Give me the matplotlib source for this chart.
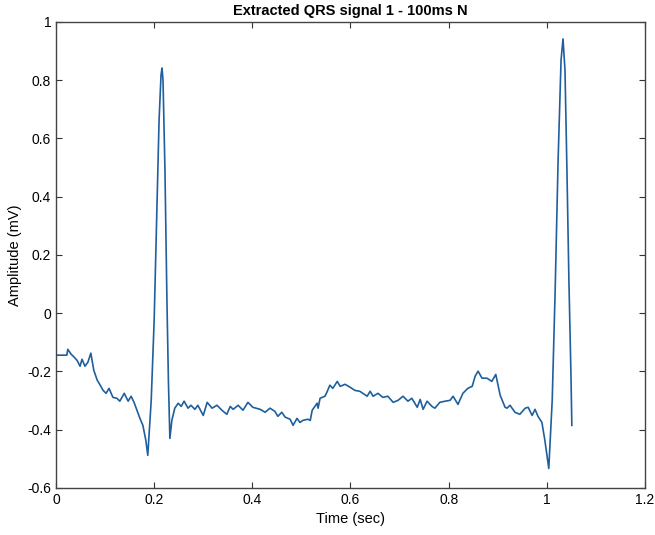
import matplotlib
matplotlib.use('Agg')
import matplotlib.pyplot as plt
from matplotlib.ticker import FuncFormatter

# 추출된 QRS 신호
time_sec = [0.000, 0.022, 0.024, 0.031, 0.037, 0.043, 0.049, 0.053, 0.059, 0.065,
            0.071, 0.077, 0.084, 0.088, 0.096, 0.102, 0.108, 0.116, 0.124, 0.130,
            0.139, 0.147, 0.153, 0.159, 0.165, 0.171, 0.177, 0.183, 0.187, 0.194,
            0.200, 0.206, 0.210, 0.214, 0.216, 0.218, 0.222, 0.226, 0.229, 0.232,
            0.236, 0.242, 0.249, 0.255, 0.261, 0.269, 0.275, 0.283, 0.289, 0.300,
            0.308, 0.318, 0.328, 0.338, 0.348, 0.355, 0.361, 0.371, 0.381, 0.391,
            0.401, 0.416, 0.426, 0.436, 0.446, 0.452, 0.460, 0.467, 0.477, 0.483,
            0.491, 0.497, 0.503, 0.513, 0.518, 0.522, 0.532, 0.534, 0.538, 0.548,
            0.552, 0.558, 0.564, 0.573, 0.579, 0.589, 0.599, 0.609, 0.619, 0.634,
            0.640, 0.646, 0.656, 0.666, 0.676, 0.687, 0.697, 0.707, 0.717, 0.725,
            0.736, 0.742, 0.748, 0.756, 0.766, 0.772, 0.782, 0.793, 0.803, 0.809,
            0.819, 0.829, 0.839, 0.848, 0.854, 0.860, 0.868, 0.878, 0.888, 0.896,
            0.905, 0.915, 0.919, 0.925, 0.935, 0.945, 0.956, 0.962, 0.970, 0.976,
            0.982, 0.990, 0.996, 1.004, 1.011, 1.017, 1.023, 1.029, 1.033, 1.037,
            1.041, 1.045, 1.049, 1.051]
amplitude_mv = [-0.144, -0.144, -0.124, -0.141, -0.151, -0.162, -0.182, -0.158, -0.182, -0.168,
                -0.137, -0.196, -0.230, -0.241, -0.265, -0.275, -0.258, -0.289, -0.292, -0.302,
                -0.275, -0.302, -0.285, -0.306, -0.333, -0.361, -0.385, -0.436, -0.488, -0.299,
                -0.024, 0.388, 0.663, 0.818, 0.842, 0.801, 0.491, 0.045, -0.230, -0.430,
                -0.368, -0.326, -0.309, -0.320, -0.302, -0.326, -0.316, -0.330, -0.316, -0.351,
                -0.306, -0.326, -0.316, -0.333, -0.347, -0.320, -0.330, -0.316, -0.333, -0.306,
                -0.323, -0.330, -0.340, -0.326, -0.337, -0.354, -0.340, -0.357, -0.364, -0.385,
                -0.361, -0.375, -0.368, -0.364, -0.368, -0.333, -0.309, -0.326, -0.292, -0.285,
                -0.271, -0.247, -0.258, -0.234, -0.251, -0.244, -0.254, -0.265, -0.268, -0.285,
                -0.268, -0.285, -0.275, -0.289, -0.285, -0.306, -0.299, -0.285, -0.302, -0.292,
                -0.323, -0.296, -0.330, -0.302, -0.320, -0.326, -0.306, -0.302, -0.299, -0.285,
                -0.313, -0.275, -0.258, -0.251, -0.216, -0.199, -0.223, -0.223, -0.234, -0.210,
                -0.282, -0.323, -0.326, -0.316, -0.340, -0.347, -0.326, -0.323, -0.351, -0.330,
                -0.354, -0.375, -0.436, -0.533, -0.299, 0.079, 0.526, 0.869, 0.942, 0.835,
                0.491, 0.113, -0.196, -0.385]

x_ticks = [0, 0.2, 0.4, 0.6, 0.8, 1.0, 1.2]
y_ticks = [-0.6, -0.4, -0.2, 0, 0.2, 0.4, 0.6, 0.8, 1.0]

plt.rcParams['font.family'] = ['Liberation Sans', 'DejaVu Sans']

fig = plt.figure(figsize=(6.55, 5.35), dpi=100)
ax = fig.add_axes([0.0855, 0.0879, 0.8992, 0.871])

ax.plot(time_sec, amplitude_mv, color='#1f5f9e', linewidth=1.2)

ax.set_xlim(0, 1.2)
ax.set_ylim(-0.6, 1.0)
ax.set_xticks(x_ticks)
ax.set_yticks(y_ticks)
fmt = FuncFormatter(lambda v, p: '%g' % round(v, 2))
ax.xaxis.set_major_formatter(fmt)
ax.yaxis.set_major_formatter(fmt)

# MATLAB 스타일: 안쪽 눈금, 네 방향 테두리
ax.tick_params(direction='in', top=True, right=True, length=4.5, width=0.8,
               labelsize=10, colors='#333333', labelcolor='black')
for s in ax.spines.values():
    s.set_color('#444444')
    s.set_linewidth(1.0)

ax.set_xlabel('Time (sec)', fontsize=10.5)
ax.set_ylabel('Amplitude (mV)', fontsize=10.5)
ax.set_title('Extracted QRS signal 1 - 100ms N', fontsize=10.5, fontweight='bold', pad=5)

fig.savefig('out.png', dpi=100)
